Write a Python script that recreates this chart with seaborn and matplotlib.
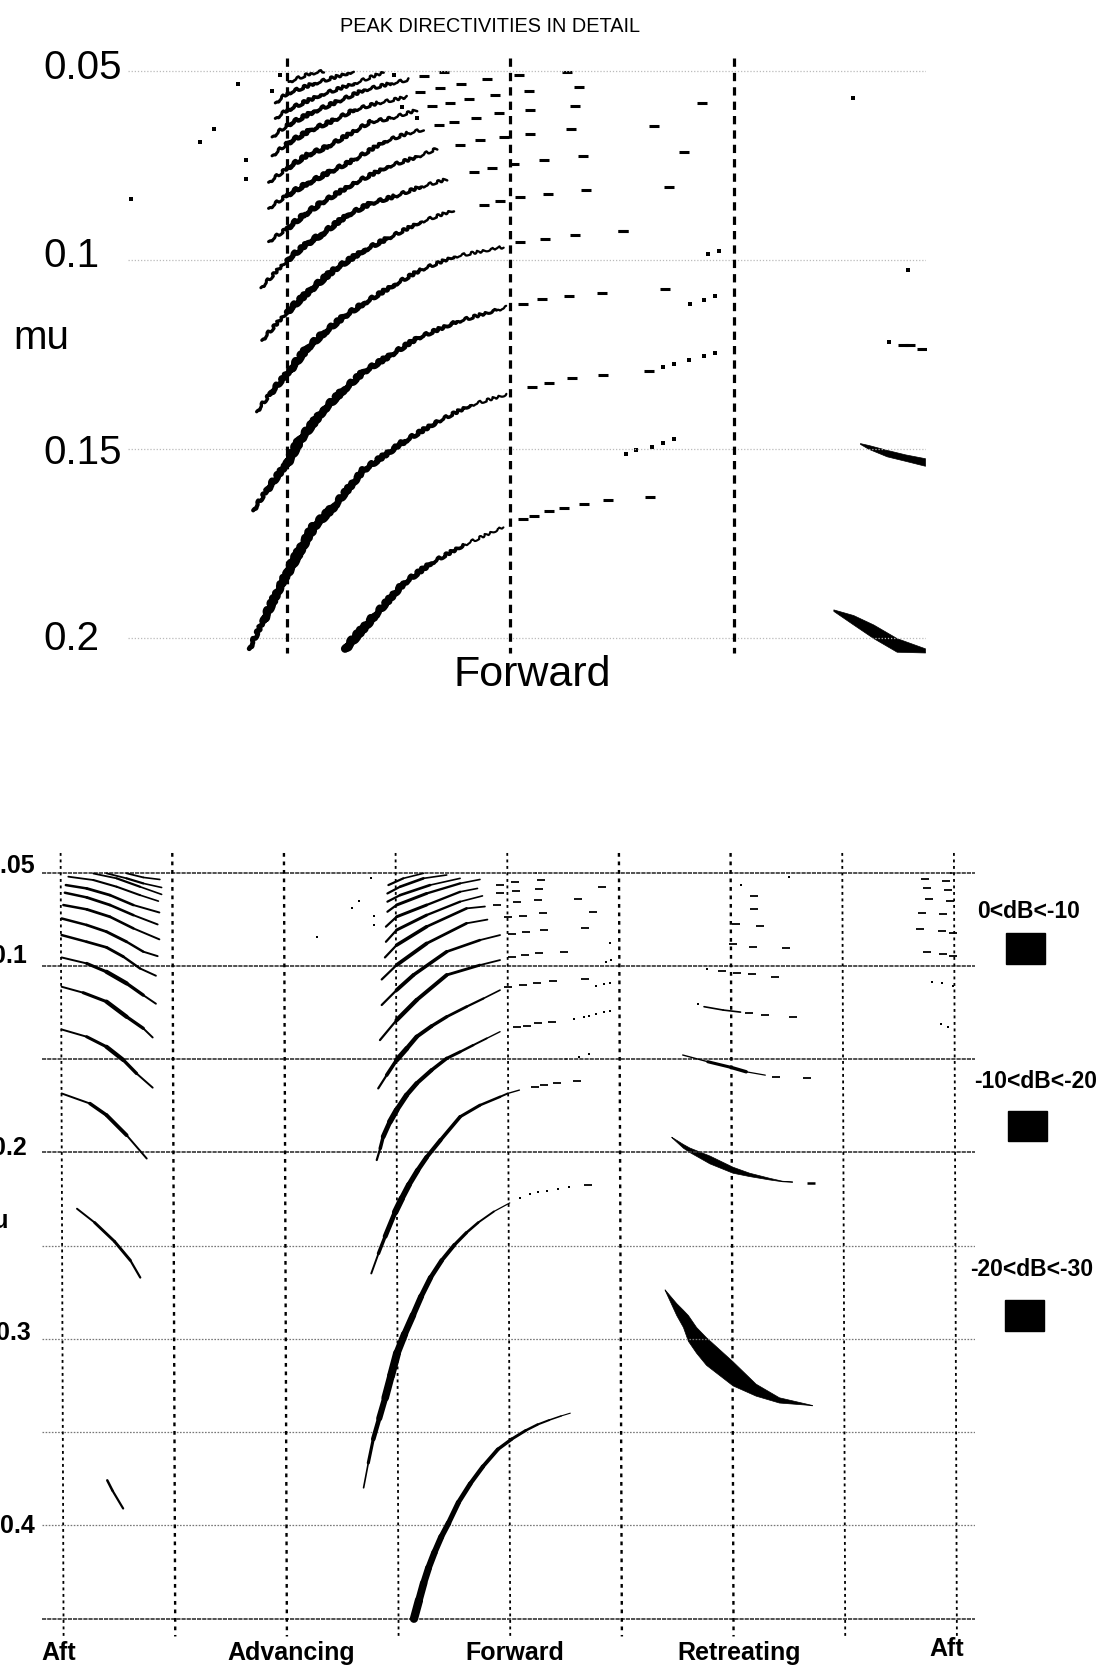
import numpy as np
import matplotlib
matplotlib.use("Agg")
import matplotlib.pyplot as plt
import seaborn as sns

# upper panel: azimuth (deg) against advance ratio mu
top_grid_mu = [0.05, 0.1, 0.15, 0.2]
top_azimuths = [90, 180, 270]

p_psi = [113.4, 124.8, 136.8, 147.6, 161.0, 177.1]
p_mu = [0.2029, 0.1945, 0.1857, 0.1804, 0.1755, 0.1707]
q_psi = [74.8, 80.5, 89.9, 100.6, 108.7, 120.7, 136.8, 150.3, 163.7, 178.4]
q_mu = [0.2029, 0.1954, 0.1830, 0.1707, 0.1654, 0.1557, 0.1482, 0.1429, 0.1385, 0.1356]
r_psi = [76.4, 81.8, 89.9, 95.2, 104.6, 112.7, 120.7, 131.5, 142.2, 158.3, 174.4, 178.4]
r_mu = [0.1663, 0.1610, 0.1539, 0.1477, 0.1398, 0.1345, 0.1297, 0.1253, 0.1208, 0.1164, 0.1133, 0.1125]
s_psi = [77.8, 83.2, 91.2, 97.9, 104.6, 112.7, 120.7, 132.9, 143.7, 157.1, 177.2]
s_mu = [0.1402, 0.1354, 0.1292, 0.1235, 0.1195, 0.1151, 0.1116, 0.1067, 0.1027, 0.0992, 0.0966]
u_psi = [79.9, 90.0, 99.4, 108.8, 120.9, 130.3, 143.7, 157.1]
u_mu = [0.1213, 0.1138, 0.1080, 0.1027, 0.0975, 0.0944, 0.0900, 0.0869]
t_psi = [79.5, 90.0, 98.1, 103.4, 114.2, 123.6, 132.9, 143.7, 154.4]
t_mu = [0.1074, 0.1001, 0.0957, 0.0935, 0.0882, 0.0851, 0.0833, 0.0807, 0.0787]
v_psi = [82.6, 90.0, 96.7, 103.4, 116.8, 130.3, 142.3, 150.4]
v_mu = [0.0952, 0.0917, 0.0882, 0.0851, 0.0798, 0.0754, 0.0728, 0.0706]
w_psi = [82.6, 90.0, 98.1, 107.4, 116.8, 128.9, 138.3, 145.0]
w_mu = [0.0864, 0.0829, 0.0798, 0.0767, 0.0736, 0.0688, 0.0666, 0.0655]
x_psi = [82.6, 90.0, 98.1, 106.1, 116.8, 123.6, 131.6, 142.3]
x_mu = [0.0795, 0.0758, 0.0723, 0.0701, 0.0661, 0.0635, 0.0626, 0.0604]
y_psi = [84.0, 90.0, 99.4, 108.8, 116.8, 126.2, 138.3]
y_mu = [0.0725, 0.0692, 0.0657, 0.0631, 0.0604, 0.0586, 0.0569]
z_psi = [84.0, 90.0, 100.7, 110.1, 120.9, 131.6, 139.0]
z_mu = [0.0675, 0.0644, 0.0608, 0.0582, 0.0551, 0.0534, 0.0523]
aa_psi = [85.3, 90.0, 103.4, 116.8, 128.9]
aa_mu = [0.0626, 0.0604, 0.0564, 0.0534, 0.0504]
bb_psi = [85.3, 90.0, 100.7, 114.2, 116.8]
bb_mu = [0.0585, 0.0560, 0.0534, 0.0507, 0.0501]
cc_psi = [90.7, 99.4, 104.8]
cc_mu = [0.0529, 0.0507, 0.0501]

top_dash_psi = [185.1, 189.4, 195.6, 201.7, 209.7, 219.4, 236.1, 188.5, 195.6, 204.6, 217.1, 235.9,
                185.0, 192.7, 203.4, 216.8, 242.3, 183.9, 194.0, 206.1, 225.5,
                169.2, 175.9, 183.9, 195.3, 210.5, 243.7, 165.2, 172.5, 181.3, 193.3, 209.0, 249.7,
                159.8, 167.8, 177.2, 188.0, 204.5, 237.6, 151.1, 157.1, 166.2, 175.2, 188.0, 206.1, 257.1,
                148.4, 155.8, 163.1, 173.9, 187.3, 207.4, 143.7, 151.7, 160.0, 170.5, 183.3, 202.7,
                145.0, 153.1, 225.4, 338.2, 340.9, 345.5]
top_dash_mu = [0.1686, 0.1677, 0.1665, 0.1656, 0.1647, 0.1636, 0.1627, 0.1336, 0.1325, 0.1314, 0.1305, 0.1295,
               0.1116, 0.1105, 0.1096, 0.1087, 0.1076, 0.0954, 0.0945, 0.0935, 0.0924,
               0.0855, 0.0845, 0.0835, 0.0826, 0.0816, 0.0807, 0.0767, 0.0756, 0.0747, 0.0736, 0.0725, 0.0716,
               0.0697, 0.0683, 0.0675, 0.0666, 0.0654, 0.0645, 0.0644, 0.0635, 0.0626, 0.0613, 0.0604, 0.0593, 0.0584,
               0.0593, 0.0585, 0.0575, 0.0564, 0.0554, 0.0544, 0.0556, 0.0545, 0.0534, 0.0522, 0.0511, 0.0503,
               0.0514, 0.0503, 0.0923, 0.1226, 0.1226, 0.1236]
top_dot_psi = [27.2, 55.0, 60.6, 70.4, 73.6, 73.6, 87.0, 84.0, 132.9, 136.3, 142.3,
               241.5, 245.8, 252.0, 257.9, 262.3, 226.5, 230.5, 236.8, 241.3, 245.8,
               252.1, 258.0, 262.4, 259.4, 263.8, 332.5, 340.0, 317.8]
top_dot_mu = [0.0840, 0.0689, 0.0653, 0.0534, 0.0735, 0.0785, 0.0511, 0.0554, 0.0511, 0.0595, 0.0626,
              0.1283, 0.1275, 0.1266, 0.1255, 0.1246, 0.1513, 0.1502, 0.1495, 0.1485, 0.1474,
              0.1116, 0.1107, 0.1096, 0.0985, 0.0976, 0.1217, 0.1026, 0.0572]

top_lobe_psi = [310.0, 318.0, 326.1, 335.5, 346.9]
top_lobe_hi = [0.1925, 0.1940, 0.1965, 0.2001, 0.2028]
top_lobe_lo = [0.1929, 0.1965, 0.2001, 0.2037, 0.2039]
top_sliver_psi = [320.7, 324.1, 331.5, 339.0, 346.9]
top_sliver_hi = [0.1485, 0.1490, 0.1503, 0.1515, 0.1525]
top_sliver_lo = [0.1487, 0.1500, 0.1520, 0.1532, 0.1545]

# lower panel: whole rotor disc
low_grid_mu = [0.05, 0.1, 0.15, 0.2, 0.25, 0.3, 0.35, 0.4, 0.45]
low_azimuths = [0, 45, 90, 135, 180, 225, 270, 315, 360]

a1_psi = [0.4, 11.8, 18.5, 26.6, 34.7]
a1_mu = [0.1684, 0.1738, 0.1800, 0.1908, 0.2033]
a2_psi = [0.4, 10.5, 18.5, 25.3, 30.6, 37.1]
a2_mu = [0.1341, 0.1380, 0.1434, 0.1505, 0.1577, 0.1653]
a3_psi = [0.4, 9.1, 18.5, 26.6, 33.3, 37.1]
a3_mu = [0.1112, 0.1144, 0.1192, 0.1273, 0.1335, 0.1384]
a4_psi = [0.4, 10.5, 18.5, 26.6, 33.3, 38.4]
a4_mu = [0.0955, 0.0987, 0.1032, 0.1094, 0.1157, 0.1203]
a5_psi = [0.4, 10.5, 18.5, 25.3, 32.0, 38.4]
a5_mu = [0.0835, 0.0871, 0.0901, 0.0951, 0.1014, 0.1053]
a6_psi = [0.4, 10.5, 18.5, 26.6, 33.3, 39.1]
a6_mu = [0.0746, 0.0781, 0.0817, 0.0871, 0.0924, 0.0948]
a7_psi = [1.1, 10.5, 19.9, 29.3, 39.8]
a7_mu = [0.0674, 0.0697, 0.0737, 0.0799, 0.0858]
a8_psi = [1.7, 10.5, 19.9, 29.3, 39.1]
a8_mu = [0.0608, 0.0633, 0.0674, 0.0728, 0.0778]
a9_psi = [2.1, 10.5, 19.9, 29.3, 39.8]
a9_mu = [0.0567, 0.0585, 0.0621, 0.0674, 0.0714]
a10_psi = [3.1, 13.2, 22.6, 32.0, 39.4]
a10_mu = [0.0522, 0.0540, 0.0576, 0.0621, 0.0653]
a11_psi = [13.2, 22.6, 32.0, 40.7]
a11_mu = [0.0505, 0.0531, 0.0576, 0.0617]
a12_psi = [18.5, 26.6, 33.3, 40.7]
a12_mu = [0.0504, 0.0531, 0.0558, 0.0580]
a13_psi = [26.6, 33.3, 40.0]
a13_mu = [0.0504, 0.0526, 0.0537]
a14_psi = [6.6, 13.7, 21.7, 28.1, 32.1]
a14_mu = [0.2302, 0.2376, 0.2477, 0.2579, 0.2671]
a15_psi = [18.8, 20.9, 25.2]
a15_mu = [0.3758, 0.3813, 0.3909]

f1_psi = [142.4, 144.4, 146.3, 148.3, 150.7, 153.4, 156.3, 160.3, 165.1, 170.2, 176.2, 181.8, 187.4, 192.2, 196.9, 201.7, 205.4]
f1_mu = [0.4500, 0.4402, 0.4310, 0.4227, 0.4144, 0.4061, 0.3988, 0.3877, 0.3776, 0.3684, 0.3592, 0.3537, 0.3491, 0.3459, 0.3435, 0.3413, 0.3398]
f2_psi = [122.1, 124.0, 126.0, 128.4, 130.8, 133.2, 135.6, 138.6, 142.0, 145.3, 149.1, 153.6, 158.7, 163.5, 168.3, 174.6, 181.0]
f2_mu = [0.3798, 0.3665, 0.3537, 0.3426, 0.3316, 0.3196, 0.3076, 0.2975, 0.2873, 0.2772, 0.2671, 0.2579, 0.2496, 0.2431, 0.2376, 0.2317, 0.2271]
f3_psi = [125.2, 128.1, 130.8, 134.8, 137.5, 140.4, 143.9, 147.5, 153.1, 161.0, 169.0, 177.1, 180.2, 184.9]
f3_mu = [0.2649, 0.2542, 0.2450, 0.2321, 0.2247, 0.2173, 0.2096, 0.2026, 0.1934, 0.1809, 0.1747, 0.1702, 0.1684, 0.1666]
f4_psi = [127.4, 128.8, 130.0, 132.7, 135.4, 139.4, 143.5, 149.5, 155.6, 161.0, 166.3, 171.7, 177.1]
f4_mu = [0.2041, 0.1979, 0.1916, 0.1836, 0.1773, 0.1693, 0.1630, 0.1559, 0.1496, 0.1461, 0.1425, 0.1389, 0.1353]
f5_psi = [128.0, 131.4, 135.4, 139.5, 143.5, 149.5, 155.6, 163.6, 170.4, 177.1]
f5_mu = [0.1657, 0.1586, 0.1505, 0.1443, 0.1380, 0.1323, 0.1273, 0.1219, 0.1175, 0.1130]
f6_psi = [128.7, 135.4, 143.5, 155.6, 169.0, 177.1]
f6_mu = [0.1398, 0.1291, 0.1183, 0.1049, 0.0996, 0.0969]
f7_psi = [129.4, 135.4, 142.2, 155.6, 169.0, 177.1]
f7_mu = [0.1210, 0.1130, 0.1049, 0.0924, 0.0862, 0.0835]
f8_psi = [129.4, 135.4, 147.5, 163.6, 172.0]
f8_mu = [0.1073, 0.0996, 0.0880, 0.0772, 0.0752]
f9_psi = [130.7, 135.4, 147.5, 163.6, 171.0]
f9_mu = [0.0955, 0.0889, 0.0790, 0.0692, 0.0682]
f10_psi = [131.1, 135.4, 147.5, 161.0, 170.0]
f10_mu = [0.0871, 0.0808, 0.0728, 0.0656, 0.0625]
f11_psi = [131.1, 135.4, 147.5, 161.0, 168.0]
f11_mu = [0.0790, 0.0737, 0.0674, 0.0603, 0.0585]
f12_psi = [131.7, 135.4, 147.5, 161.0, 169.0]
f12_mu = [0.0710, 0.0674, 0.0612, 0.0558, 0.0537]
f13_psi = [131.7, 136.8, 148.9, 161.0]
f13_mu = [0.0656, 0.0621, 0.0567, 0.0531]
f14_psi = [131.7, 136.8, 146.2, 155.6]
f14_mu = [0.0612, 0.0576, 0.0531, 0.0513]
f15_psi = [132.1, 138.1, 146.2]
f15_mu = [0.0567, 0.0531, 0.0504]
ret1_psi = [250.7, 260.8, 270.1, 276.3, 284.0]
ret1_mu = [0.1478, 0.1514, 0.1544, 0.1568, 0.1586]
ret2_psi = [259.3, 267.0, 274.0]
ret2_mu = [0.1219, 0.1237, 0.1248]

low_dash_psi = [212.4, 184.1, 188.0, 192.3, 198.0, 180.2, 186.4, 191.8, 198.3, 211.2,
                181.8, 187.2, 192.6, 202.7, 181.8, 187.6, 194.9, 211.5, 180.2, 186.4, 194.5, 214.6,
                176.0, 183.8, 192.3, 208.7, 177.1, 183.6, 192.6, 218.3, 177.1, 183.3, 193.7,
                191.0, 194.9, 200.0, 208.1,
                266.6, 272.4, 278.6, 288.0, 277.3, 284.0, 295.1, 288.5, 300.7,
                279.6, 279.4, 281.9, 272.3, 271.1, 279.0, 292.2,
                348.4, 349.2, 350.0, 347.1, 346.4, 349.2, 357.0, 357.7, 358.5, 355.7, 355.0, 355.7, 359.5, 359.5]
low_dash_mu = [0.2177, 0.1327, 0.1323, 0.1309, 0.1300, 0.1112, 0.1103, 0.1092, 0.1082, 0.1071,
               0.0951, 0.0942, 0.0933, 0.0924, 0.0831, 0.0821, 0.0808, 0.0799, 0.0740, 0.0731, 0.0719, 0.0710,
               0.0675, 0.0660, 0.0649, 0.0640, 0.0608, 0.0599, 0.0590, 0.0580, 0.0567, 0.0551, 0.0540,
               0.1648, 0.1639, 0.1627, 0.1616,
               0.1029, 0.1036, 0.1046, 0.1058, 0.1255, 0.1264, 0.1275, 0.1596, 0.1603,
               0.0628, 0.0697, 0.0787, 0.0778, 0.0885, 0.0898, 0.0907,
               0.0535, 0.0583, 0.0644, 0.0715, 0.0803, 0.0926, 0.0546, 0.0591, 0.0653, 0.0724, 0.0812, 0.0935, 0.0826, 0.0948]
low_dot_psi = [103.2, 117.3, 120.4, 126.3, 126.3, 125.0, 206.9, 210.9, 213.0, 215.9, 219.0, 221.6,
               203.5, 208.9, 213.0, 215.9, 219.0, 221.6, 219.7, 222.0, 221.3, 191.4,
               260.5, 256.9, 293.4, 274.3, 351.2, 355.4, 359.5, 354.9, 357.7, 358.8,
               185.0, 189.0, 192.5, 196.1, 200.5, 204.9]
low_dot_mu = [0.0844, 0.0692, 0.0653, 0.0733, 0.0783, 0.0531, 0.1287, 0.1276, 0.1267, 0.1258, 0.1249, 0.1240,
              0.1501, 0.1491, 0.1470, 0.1107, 0.1098, 0.1091, 0.0978, 0.0969, 0.0880, 0.0500,
              0.1019, 0.1207, 0.0526, 0.0567, 0.1087, 0.1094, 0.1107, 0.1314, 0.1326, 0.0500,
              0.2247, 0.2225, 0.2214, 0.2205, 0.2195, 0.2186]

big_psi = [243.4, 248.1, 250.8, 252.8, 256.1, 260.1, 270.8, 280.1, 289.5, 300.2, 302.8]
big_hi = [0.2734, 0.2808, 0.2844, 0.2872, 0.2936, 0.2991, 0.3120, 0.3240, 0.3313, 0.3346, 0.3354]
big_lo = [0.2736, 0.2872, 0.2936, 0.3010, 0.3074, 0.3139, 0.3249, 0.3304, 0.3341, 0.3352, 0.3356]
mid_psi = [246.1, 250.8, 253.4, 261.5, 270.8, 277.5, 285.5, 290.8, 294.8]
mid_hi = [0.1916, 0.1955, 0.1974, 0.2017, 0.2077, 0.2109, 0.2136, 0.2152, 0.2155]
mid_lo = [0.1918, 0.1975, 0.1998, 0.2059, 0.2109, 0.2127, 0.2145, 0.2155, 0.2158]
tail_psi = [302.3]
tail_mu = [0.2166]

x_names = ["Aft", "Advancing", "Forward", "Retreating", "Aft"]
legend_names = ["0<dB<-10", "-10<dB<-20", "-20<dB<-30"]

sns.set_style("white")
plt.rcParams["font.family"] = ["Liberation Sans", "DejaVu Sans"]

W, H = 1102, 1680
fig = plt.figure(figsize=(W / 100, H / 100), dpi=100, facecolor="white")


def pixel_axes(x0, y0, x1, y1):
    ax = fig.add_axes([x0 / W, 1 - y1 / H, (x1 - x0) / W, (y1 - y0) / H])
    ax.patch.set_alpha(0)
    return ax


def label(x, y, text, **kw):
    fig.text(x / W, 1 - y / H, text, va="center", color="black", **kw)


def rule(ax, xs, ys, **kw):
    sns.lineplot(x=xs, y=ys, ax=ax, estimator=None, sort=False, legend=False, **kw)


def taper(ax, psi, mu, start, peak, end, where=0.0, rough=False):
    # thick-to-thin curve, one short line per step
    widths = np.interp(np.linspace(0, 1, len(psi) - 1), [0, where, 1], [start, peak, end])
    for i, lw in enumerate(widths):
        rule(ax, psi[i:i + 2], mu[i:i + 2], color="black", lw=lw, solid_capstyle="round")
        if rough:
            ax.lines[-1].set_sketch_params(1.4, 14, 6)


def finish(ax, xlim, ylim):
    ax.set_xlim(*xlim)
    ax.set_ylim(*ylim)
    ax.axis("off")


# ---- top panel
top = pixel_axes(128, 50, 926, 654)
for m in top_grid_mu:
    rule(top, [26.0, 347.3], [m, m], color="#bbbbbb", lw=0.9, ls=(0, (1, 1.5)))
for a in top_azimuths:
    rule(top, [a, a], [0.0465, 0.2040], color="black", lw=2.3, ls=(0, (2.6, 1.9)))

taper(top, p_psi, p_mu, 6.0, 6.0, 1.5, rough=True)
taper(top, q_psi, q_mu, 3.5, 7.0, 1.6, 0.2, rough=True)
taper(top, r_psi, r_mu, 3.0, 6.4, 1.6, 0.2, rough=True)
taper(top, s_psi, s_mu, 2.4, 5.4, 1.6, 0.2, rough=True)
taper(top, u_psi, u_mu, 2.4, 5.0, 1.8, 0.2, rough=True)
taper(top, t_psi, t_mu, 2.2, 4.6, 1.8, 0.2, rough=True)
taper(top, v_psi, v_mu, 2.2, 4.1, 1.8, 0.2, rough=True)
taper(top, w_psi, w_mu, 2.2, 3.8, 1.8, 0.2, rough=True)
taper(top, x_psi, x_mu, 2.2, 3.6, 1.8, 0.2, rough=True)
taper(top, y_psi, y_mu, 2.2, 3.4, 1.8, 0.2, rough=True)
taper(top, z_psi, z_mu, 2.2, 3.1, 1.8, 0.2, rough=True)
taper(top, aa_psi, aa_mu, 2.2, 2.9, 1.8, 0.2, rough=True)
taper(top, bb_psi, bb_mu, 2.2, 2.6, 1.8, 0.2, rough=True)
taper(top, cc_psi, cc_mu, 1.9, 2.4, 1.8, 0.2, rough=True)
sns.scatterplot(x=top_dash_psi, y=top_dash_mu, ax=top, marker="_", s=55, color="black", linewidth=2.2, legend=False)
sns.scatterplot(x=top_dot_psi, y=top_dot_mu, ax=top, marker="s", s=10, color="black", linewidth=0, legend=False)
top.fill_between(top_lobe_psi, top_lobe_hi, top_lobe_lo, color="black", lw=0.5)
top.fill_between(top_sliver_psi, top_sliver_hi, top_sliver_lo, color="black", lw=0.5)
finish(top, (26.0, 347.3), (0.2043, 0.0445))

# ---- bottom panel
low = pixel_axes(42, 850, 975, 1640)
for m in low_grid_mu:
    dark = m in (0.05, 0.1, 0.15, 0.2, 0.45)
    rule(low, [-7.5, 368.5], [m, m], color="#333333" if dark else "#777777",
         lw=1.2 if dark else 0.9, ls=(0, (2.5, 0.6)) if dark else (0, (1.3, 1.2)))
for i, a in enumerate(low_azimuths):
    rule(low, [a, a + 1.2], [0.0395, 0.4595], color="black",
         lw=1.7 if i in (1, 2, 5, 6) else 1.3, ls=(0, (1.6, 2.0)))

for psi, mu in [(a1_psi, a1_mu), (a2_psi, a2_mu), (a3_psi, a3_mu), (a4_psi, a4_mu)]:
    taper(low, psi, mu, 1.4, 3.2, 1.4, 0.55)
for psi, mu in [(a5_psi, a5_mu), (a6_psi, a6_mu), (a7_psi, a7_mu), (a8_psi, a8_mu), (a9_psi, a9_mu)]:
    taper(low, psi, mu, 1.8, 2.1, 1.4, 0.5)
for psi, mu in [(a10_psi, a10_mu), (a11_psi, a11_mu), (a12_psi, a12_mu), (a13_psi, a13_mu)]:
    taper(low, psi, mu, 1.3, 1.6, 1.2, 0.5)
taper(low, a14_psi, a14_mu, 1.4, 2.4, 1.6, 0.5)
taper(low, a15_psi, a15_mu, 1.8, 2.2, 1.6, 0.5)

taper(low, f1_psi, f1_mu, 6.0, 5.2, 0.8, 0.1)
taper(low, f2_psi, f2_mu, 1.2, 6.0, 0.9, 0.3)
taper(low, f3_psi, f3_mu, 1.4, 4.6, 1.0, 0.25)
taper(low, f4_psi, f4_mu, 1.6, 4.2, 1.0, 0.25)
taper(low, f5_psi, f5_mu, 1.6, 3.6, 1.2, 0.25)
taper(low, f6_psi, f6_mu, 1.6, 3.4, 1.3, 0.3)
taper(low, f7_psi, f7_mu, 1.6, 3.0, 1.3, 0.3)
taper(low, f8_psi, f8_mu, 1.6, 2.8, 1.3, 0.3)
taper(low, f9_psi, f9_mu, 1.6, 2.6, 1.3, 0.3)
for psi, mu in [(f10_psi, f10_mu), (f11_psi, f11_mu), (f12_psi, f12_mu), (f13_psi, f13_mu),
                (f14_psi, f14_mu), (f15_psi, f15_mu)]:
    taper(low, psi, mu, 1.6, 2.2, 1.2, 0.3)
taper(low, ret1_psi, ret1_mu, 1.0, 3.0, 0.9, 0.55)
taper(low, ret2_psi, ret2_mu, 1.2, 1.4, 1.2, 0.5)

sns.scatterplot(x=low_dash_psi, y=low_dash_mu, ax=low, marker="_", s=30, color="black", linewidth=1.3, legend=False)
sns.scatterplot(x=low_dot_psi, y=low_dot_mu, ax=low, marker="s", s=4, color="black", linewidth=0, legend=False)
sns.scatterplot(x=tail_psi, y=tail_mu, ax=low, marker="_", s=30, color="black", linewidth=1.8, legend=False)
low.fill_between(big_psi, big_hi, big_lo, color="black", lw=0.5)
low.fill_between(mid_psi, mid_hi, mid_lo, color="black", lw=0.5)
finish(low, (-7.5, 368.5), (0.4614, 0.0379))

# ---- legend swatches
for x0, y0, x1, y1 in [(1006, 933, 1045, 964), (1008, 1111, 1047, 1141), (1005, 1300, 1044, 1331)]:
    fig.add_artist(plt.Rectangle((x0 / W, 1 - y1 / H), (x1 - x0) / W, (y1 - y0) / H, color="black",
                                 transform=fig.transFigure))

# ---- text
label(490.5, 26, "PEAK DIRECTIVITIES IN DETAIL", ha="center", fontsize=14.3)
for y, s in [(68, "0.05"), (256, "0.1"), (453, "0.15"), (639, "0.2")]:
    label(43, y, s, ha="left", fontsize=29)
label(13, 338, "mu", ha="left", fontsize=29)
label(532, 675, "Forward", ha="center", fontsize=31)

for y, s, r in [(866, "0.05", 35), (956, "0.1", 27), (1148, "0.2", 27), (1333, "0.3", 31), (1526, "0.4", 35)]:
    label(r, y, s, ha="right", fontsize=18, fontweight="bold")
label(9, 1221, "mu", ha="right", fontsize=18, fontweight="bold")
for x, y, s in zip([59, 291, 515, 739, 947], [1653, 1653, 1653, 1653, 1649], x_names):
    label(x, y, s, ha="center", fontsize=18, fontweight="bold")
for x, y, s in zip([1029, 1036, 1032], [912, 1082, 1270], legend_names):
    label(x, y, s, ha="center", fontsize=16.5, fontweight="bold")

fig.savefig("out.png", dpi=100, facecolor="white")
